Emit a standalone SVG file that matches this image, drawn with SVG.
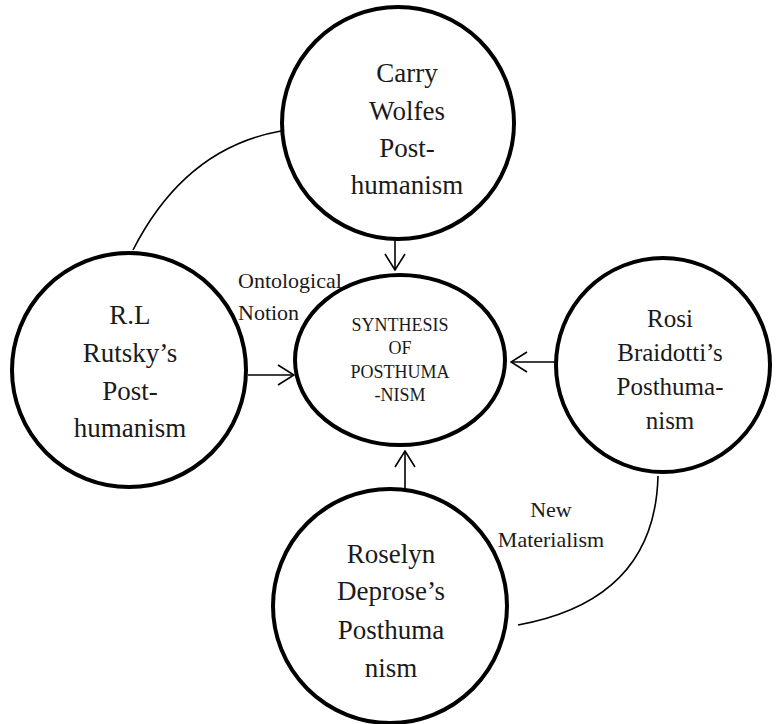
<svg xmlns="http://www.w3.org/2000/svg" width="777" height="724" viewBox="0 0 777 724" font-family="'Liberation Serif', 'DejaVu Serif', serif">
<defs>
<style>
.node{fill:#fff;stroke:#000;stroke-width:4}
.conn{fill:none;stroke:#000;stroke-width:1.6}
text{font-family:"Liberation Serif","DejaVu Serif",serif;fill:#1a1a1a;text-anchor:middle}
.t27{font-size:27px}
.t25{font-size:25px}
.t18{font-size:18px}
.lbl{font-size:22px}
</style>
<marker id="arr" viewBox="0 0 18 22" refX="17" refY="11" markerWidth="18" markerHeight="22" markerUnits="userSpaceOnUse" orient="auto">
<path d="M1,1 L17,11 L1,21" fill="none" stroke="#000" stroke-width="1.6"/>
</marker>
</defs>
<rect width="777" height="724" fill="#fff"/>
<g id="connectors">
<path class="conn" d="M133,250 Q185,148 281,131"/>
<path class="conn" d="M658,476 Q655,600 518,625"/>
<line class="conn" x1="395" y1="239" x2="395" y2="270" marker-end="url(#arr)"/>
<line class="conn" x1="248" y1="375" x2="294" y2="375" marker-end="url(#arr)"/>
<line class="conn" x1="555" y1="362" x2="511" y2="362" marker-end="url(#arr)"/>
<line class="conn" x1="405" y1="489" x2="405" y2="451" marker-end="url(#arr)"/>
</g>
<g id="node-wolfe" font-family="'Liberation Serif', serif">
<circle class="node" cx="398" cy="123" r="116"/>
<text class="t27" x="407" y="82">Carry</text>
<text class="t27" x="407" y="120">Wolfes</text>
<text class="t27" x="407" y="157">Post-</text>
<text class="t27" x="407" y="194">humanism</text>
</g>
<g id="node-rutsky" font-family="'Liberation Serif', serif">
<circle class="node" cx="129" cy="370" r="117"/>
<text class="t27" x="130" y="324">R.L</text>
<text class="t27" x="130" y="362">Rutsky’s</text>
<text class="t27" x="130" y="400">Post-</text>
<text class="t27" x="130" y="437">humanism</text>
</g>
<g id="node-synthesis" font-family="'Liberation Serif', serif">
<ellipse class="node" cx="400" cy="360" rx="105" ry="85"/>
<text class="t18" x="400" y="331">SYNTHESIS</text>
<text class="t18" x="400" y="354">OF</text>
<text class="t18" x="400" y="378">POSTHUMA</text>
<text class="t18" x="400" y="401">-NISM</text>
</g>
<g id="node-braidotti" font-family="'Liberation Serif', serif">
<circle class="node" cx="663" cy="365" r="107"/>
<text class="t25" x="670" y="327">Rosi</text>
<text class="t25" x="670" y="361">Braidotti’s</text>
<text class="t25" x="670" y="395">Posthuma-</text>
<text class="t25" x="670" y="429">nism</text>
</g>
<g id="node-deprose" font-family="'Liberation Serif', serif">
<circle class="node" cx="390" cy="606" r="117"/>
<text class="t27" x="391" y="563">Roselyn</text>
<text class="t27" x="391" y="600">Deprose’s</text>
<text class="t27" x="391" y="639">Posthuma</text>
<text class="t27" x="391" y="677">nism</text>
</g>
<g id="labels" font-family="'Liberation Serif', serif">
<text class="lbl" x="238" y="288" style="text-anchor:start">Ontological</text>
<text class="lbl" x="238" y="320" style="text-anchor:start">Notion</text>
<text class="lbl" x="551" y="517">New</text>
<text class="lbl" x="551" y="547">Materialism</text>
</g>
</svg>
